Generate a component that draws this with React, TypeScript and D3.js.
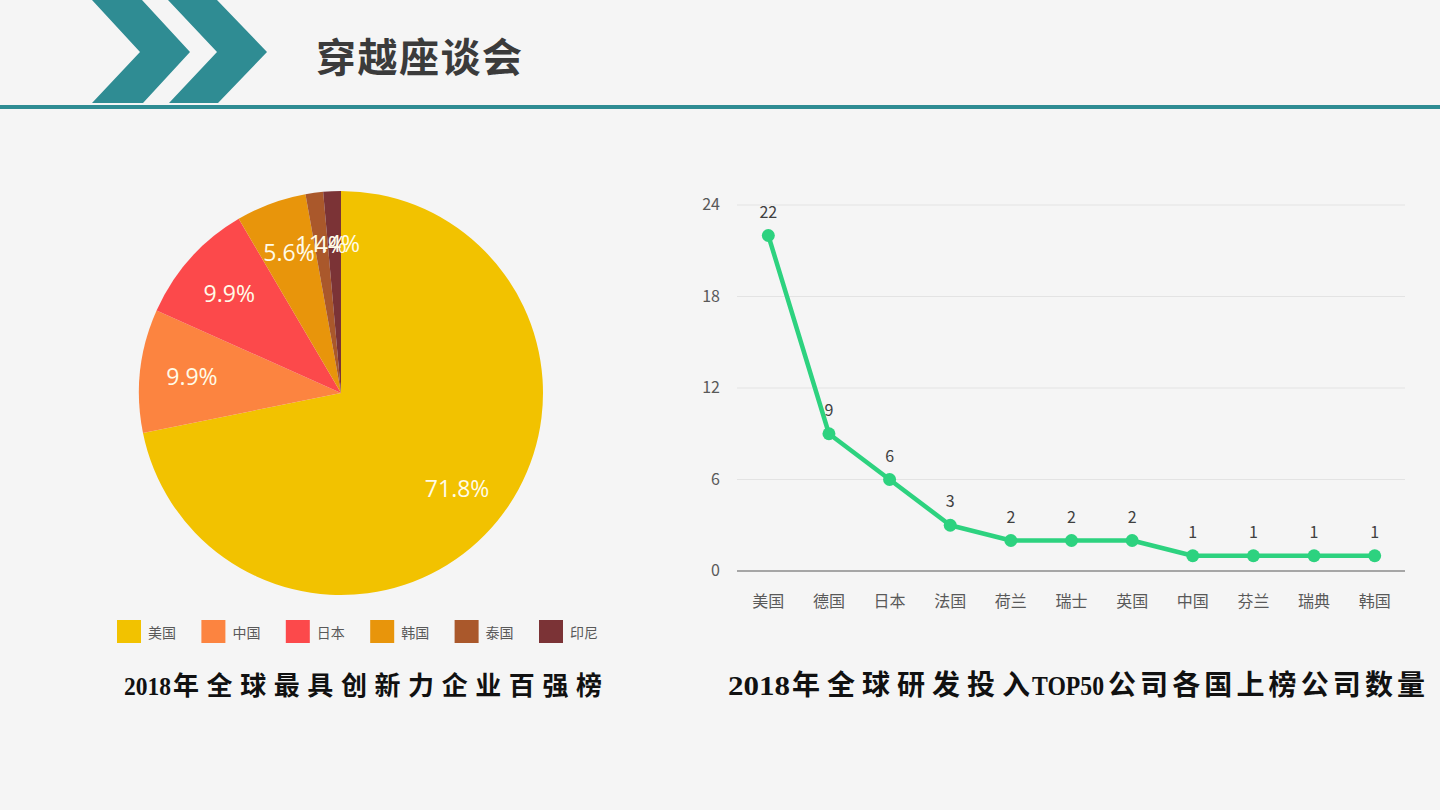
import React, { useEffect, useRef } from "react";
import * as d3 from "d3";

// left pie: 2018 top-100 innovative companies by country
const pieCountries = ["美国", "中国", "日本", "韩国", "泰国", "印尼"];
const pieCounts = [51, 7, 7, 4, 1, 1];
const pieColors = ["#f2c200", "#fc8440", "#fc494b", "#e8950b", "#aa582b", "#7b3336"];

// right line: R&D TOP50 companies per country
const lineCountries = ["美国", "德国", "日本", "法国", "荷兰", "瑞士", "英国", "中国", "芬兰", "瑞典", "韩国"];
const lineCounts = [22, 9, 6, 3, 2, 2, 2, 1, 1, 1, 1];
const yTicks = [0, 6, 12, 18, 24];

const teal = "#2f8c93";
const sans = "'Noto Sans CJK SC', 'Open Sans', sans-serif";
const serif = "'Liberation Serif', 'DejaVu Serif', 'Noto Sans CJK SC', serif";

// captions split in runs so latin and CJK can be spaced apart
const captionRuns = [
	[
		{ t: "2018", x: 124, w: 47, size: 26, latin: true },
		{ t: "年全球最具创新力企业百强榜", x: 173, w: 429, size: 26, latin: false },
	],
	[
		{ t: "2018", x: 728, w: 62, size: 28, latin: true },
		{ t: "年全球研发投入", x: 792, w: 238, size: 28, latin: false },
		{ t: "TOP50", x: 1032, w: 72, size: 28, latin: true },
		{ t: "公司各国上榜公司数量", x: 1108, w: 317, size: 28, latin: false },
	],
];

const drawChart = (svgEl: SVGSVGElement) => {
	const svg = d3.select(svgEl);
	svg.selectAll("*").remove();

	svg.append("rect").attr("width", 1440).attr("height", 810).attr("fill", "#f5f5f5");

	// header
	const chevrons = [
		[[92, 0], [142, 0], [190, 52], [143, 103], [92, 103], [140, 52]],
		[[168, 0], [217, 0], [267, 52], [218, 103], [169, 103], [217, 52]],
	];
	svg
		.selectAll("polygon.chev")
		.data(chevrons)
		.enter()
		.append("polygon")
		.attr("class", "chev")
		.attr("points", (d) => d.map((p) => p.join(",")).join(" "))
		.attr("fill", teal);
	svg.append("rect").attr("x", 0).attr("y", 105).attr("width", 1440).attr("height", 4).attr("fill", teal);
	svg
		.append("text")
		.text("穿越座谈会")
		.attr("x", 316)
		.attr("y", 72)
		.attr("font-family", sans)
		.attr("font-weight", "bold")
		.attr("font-size", 40)
		.attr("textLength", 206)
		.attr("fill", "#3b3b3b");

	// pie
	const total = d3.sum(pieCounts);
	const pie = d3.pie<number>().sort(null).value((d) => d);
	const arcs = pie(pieCounts);
	const arc = d3.arc<d3.PieArcDatum<number>>().innerRadius(0).outerRadius(202);
	const labelArc = d3.arc<d3.PieArcDatum<number>>().innerRadius(150).outerRadius(150);

	const pieG = svg.append("g").attr("transform", "translate(341, 393)");
	pieG
		.selectAll("path")
		.data(arcs)
		.enter()
		.append("path")
		.attr("d", arc)
		.attr("fill", (d, i) => pieColors[i]);
	pieG
		.selectAll("text")
		.data(arcs)
		.enter()
		.append("text")
		.attr("transform", (d) => `translate(${labelArc.centroid(d)})`)
		.attr("text-anchor", "middle")
		.attr("dominant-baseline", "central")
		.attr("font-family", "'Open Sans', sans-serif")
		.attr("font-size", 23)
		.attr("fill", "#fffbe8")
		.text((d) => ((d.value / total) * 100).toFixed(1) + "%");

	// pie legend
	const legend = svg
		.append("g")
		.selectAll("g")
		.data(pieCountries)
		.enter()
		.append("g")
		.attr("transform", (d, i) => `translate(${117 + i * 84.4}, 620)`);
	legend
		.append("rect")
		.attr("width", 24)
		.attr("height", 23)
		.attr("fill", (d, i) => pieColors[i]);
	legend
		.append("text")
		.attr("x", 31)
		.attr("y", 12)
		.attr("dominant-baseline", "central")
		.attr("font-family", sans)
		.attr("font-size", 14)
		.attr("fill", "#595959")
		.text((d) => d);

	// line chart
	const x = d3.scalePoint<string>().domain(lineCountries).range([738, 1405]).padding(0.5);
	const y = d3.scaleLinear().domain([0, 24]).range([571, 205]);

	const grid = svg.append("g");
	grid
		.selectAll("line")
		.data(yTicks)
		.enter()
		.append("line")
		.attr("x1", 737)
		.attr("x2", 1405)
		.attr("y1", (d) => y(d))
		.attr("y2", (d) => y(d))
		.attr("stroke", (d) => (d === 0 ? "#a6a6a6" : "#e3e3e3"))
		.attr("stroke-width", (d) => (d === 0 ? 2 : 1));
	grid
		.selectAll("text")
		.data(yTicks)
		.enter()
		.append("text")
		.attr("x", 720)
		.attr("y", (d) => y(d) - 2)
		.attr("text-anchor", "end")
		.attr("dominant-baseline", "central")
		.attr("font-family", sans)
		.attr("font-size", 16)
		.attr("fill", "#595959")
		.text((d) => d);

	svg
		.append("g")
		.selectAll("text")
		.data(lineCountries)
		.enter()
		.append("text")
		.attr("x", (d) => x(d)!)
		.attr("y", 600)
		.attr("text-anchor", "middle")
		.attr("dominant-baseline", "central")
		.attr("font-family", sans)
		.attr("font-size", 16)
		.attr("fill", "#595959")
		.text((d) => d);

	const line = d3
		.line<number>()
		.x((d, i) => x(lineCountries[i])!)
		.y((d) => y(d));
	svg
		.append("path")
		.datum(lineCounts)
		.attr("d", line)
		.attr("fill", "none")
		.attr("stroke", "#2dd27f")
		.attr("stroke-width", 4.5)
		.attr("stroke-linejoin", "round");

	const pts = svg.append("g");
	pts
		.selectAll("circle")
		.data(lineCounts)
		.enter()
		.append("circle")
		.attr("cx", (d, i) => x(lineCountries[i])!)
		.attr("cy", (d) => y(d))
		.attr("r", 6.5)
		.attr("fill", "#2dd27f");
	pts
		.selectAll("text")
		.data(lineCounts)
		.enter()
		.append("text")
		.attr("x", (d, i) => x(lineCountries[i])!)
		.attr("y", (d) => y(d) - 25)
		.attr("text-anchor", "middle")
		.attr("dominant-baseline", "central")
		.attr("font-family", sans)
		.attr("font-size", 16)
		.attr("fill", "#404040")
		.text((d) => d);

	// captions
	const caps = svg.append("g");
	captionRuns.forEach((runs) => {
		caps
			.append("g")
			.selectAll("text")
			.data(runs)
			.enter()
			.append("text")
			.attr("x", (d) => d.x)
			.attr("y", 695)
			.attr("textLength", (d) => d.w)
			.attr("lengthAdjust", (d) => (d.latin ? "spacingAndGlyphs" : "spacing"))
			.attr("font-family", serif)
			.attr("font-weight", "bold")
			.attr("font-size", (d) => d.size)
			.attr("fill", "#111")
			.text((d) => d.t);
	});
};

const App = () => {
	const svgRef = useRef<SVGSVGElement>(null);

	useEffect(() => {
		if (svgRef.current) drawChart(svgRef.current);
	}, []);

	return (
		<div style={{ position: "absolute", left: 0, top: 0, width: 1440, height: 810 }}>
			<svg ref={svgRef} width={1440} height={810} style={{ display: "block" }} />
		</div>
	);
};

export default App;
